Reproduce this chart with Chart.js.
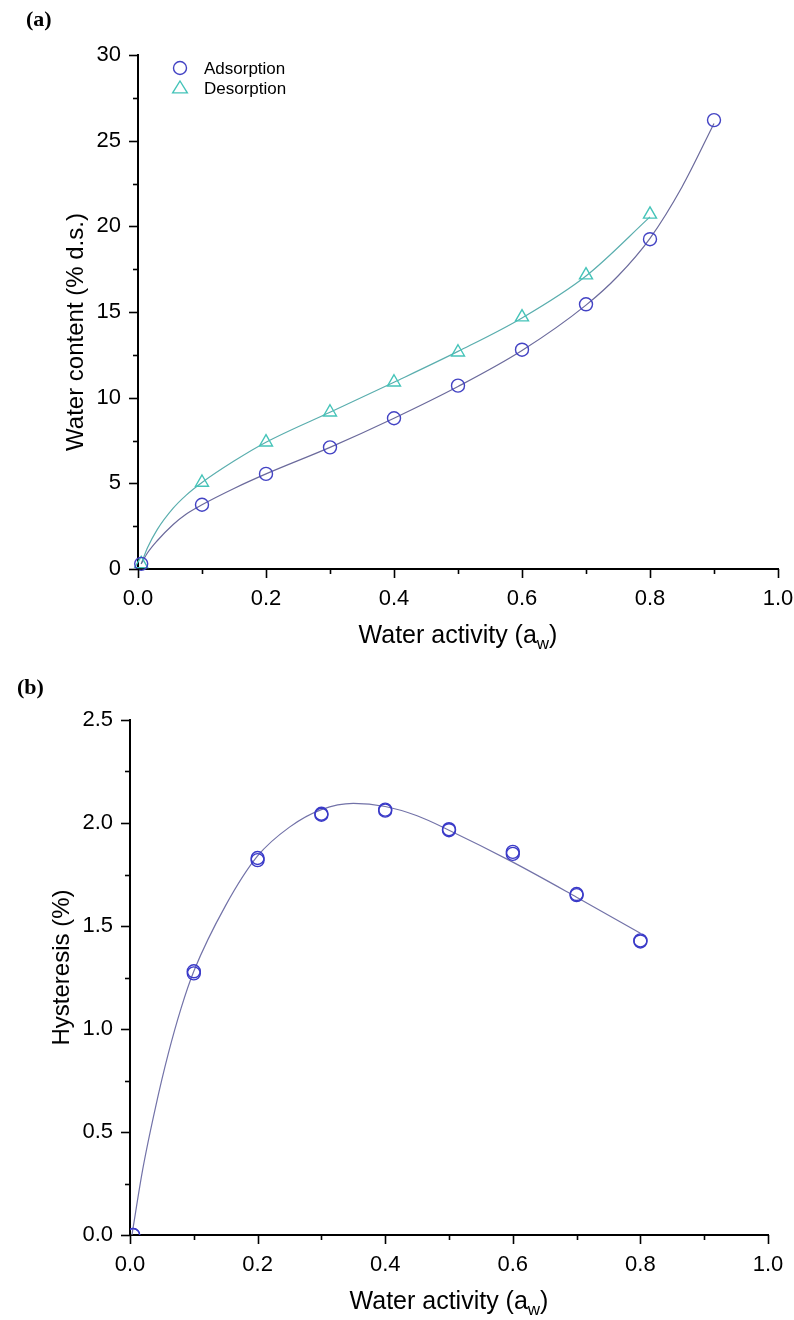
<!DOCTYPE html>
<html>
<head>
<meta charset="utf-8">
<script src="https://cdn.jsdelivr.net/npm/chart.js@4.4.1/dist/chart.umd.min.js"></script>
<style>
  body { margin: 0; background: #fff; width: 794px; height: 1320px; position: relative; overflow: hidden; }
  .wrap { position: absolute; left: 0; width: 794px; }
  .tag { position: absolute; font: bold 22px "Liberation Serif", serif; color: #000; z-index: 2; }
</style>
</head>
<body>
<div class="wrap" style="top:0;height:680px"><canvas id="chartA" width="794" height="680"></canvas></div>
<div class="wrap" style="top:680px;height:640px"><canvas id="chartB" width="794" height="640"></canvas></div>
<div class="tag" style="left:26px;top:6px">(a)</div>
<div class="tag" style="left:17px;top:674px">(b)</div>
<script>
// measured points, panel (a)
const awAds = [0.005, 0.1, 0.2, 0.3, 0.4, 0.5, 0.6, 0.7, 0.8, 0.9];
const adsorption = [0.3, 3.75, 5.55, 7.1, 8.8, 10.7, 12.8, 15.45, 19.25, 26.2];
const awDes = [0.005, 0.1, 0.2, 0.3, 0.4, 0.5, 0.6, 0.7, 0.8];
const desorption = [0.3, 5.05, 7.4, 9.15, 10.9, 12.65, 14.7, 17.15, 20.7];

// fitted curves
const awAdsFit = [0.005, 0.015, 0.03, 0.055, 0.075, 0.1, 0.15, 0.2, 0.3, 0.4, 0.5, 0.6, 0.7, 0.75, 0.8, 0.85, 0.9];
const adsorptionFit = [0.3, 0.95, 1.65, 2.6, 3.2, 3.75, 4.7, 5.55, 7.1, 8.8, 10.65, 12.75, 15.4, 17.1, 19.3, 22.3, 26.0];
const awDesFit = [0.005, 0.015, 0.03, 0.055, 0.075, 0.1, 0.15, 0.2, 0.3, 0.4, 0.5, 0.6, 0.7, 0.8];
const desorptionFit = [0.3, 1.25, 2.3, 3.55, 4.3, 5.05, 6.3, 7.4, 9.15, 10.9, 12.7, 14.65, 17.1, 20.55];

// panel (b): two overlapping marker sets + fit
const awHyst = [0.005, 0.1, 0.2, 0.3, 0.4, 0.5, 0.6, 0.7, 0.8];
const hysteresis1 = [0.0, 1.28, 1.83, 2.045, 2.065, 1.97, 1.86, 1.655, 1.43];
const hysteresis2 = [0.0, 1.27, 1.82, 2.04, 2.06, 1.965, 1.85, 1.65, 1.425];
const awHystFit = [0.003, 0.02, 0.04, 0.06, 0.08, 0.1, 0.15, 0.2, 0.25, 0.3, 0.35, 0.4, 0.45, 0.5, 0.6, 0.7, 0.8];
const hysteresisFit = [0.0, 0.32, 0.62, 0.88, 1.1, 1.28, 1.6, 1.84, 1.98, 2.065, 2.095, 2.08, 2.035, 1.965, 1.81, 1.64, 1.465];

const FONT = '"Liberation Sans", Arial, sans-serif';
const pts = (xs, ys) => xs.map((x, i) => ({x: x, y: ys[i]}));

const tickMarks = {
  id: 'tickMarks',
  afterDraw(chart) {
    const ctx = chart.ctx;
    const sx = chart.scales.x, sy = chart.scales.y;
    ctx.save();
    ctx.strokeStyle = '#000';
    ctx.lineWidth = 1.6;
    sx.ticks.forEach((t, i) => {
      const px = Math.round(sx.getPixelForValue(t.value)) + 0.5;
      const len = i % 2 ? 5 : 9;
      ctx.beginPath(); ctx.moveTo(px, sx.top); ctx.lineTo(px, sx.top + len); ctx.stroke();
    });
    sy.ticks.forEach((t, i) => {
      const py = Math.round(sy.getPixelForValue(t.value)) + 0.5;
      const len = i % 2 ? 5 : 9;
      ctx.beginPath(); ctx.moveTo(sy.right, py); ctx.lineTo(sy.right - len, py); ctx.stroke();
    });
    ctx.restore();
  }
};

const axisTitles = {
  id: 'axisTitles',
  afterDraw(chart, args, opts) {
    const ctx = chart.ctx, area = chart.chartArea;
    ctx.save();
    ctx.fillStyle = '#000';
    // x title with subscript w
    const big = '25px ' + FONT, small = '17px ' + FONT;
    ctx.font = big;
    const w1 = ctx.measureText('Water activity (a').width;
    const w3 = ctx.measureText(')').width;
    ctx.font = small;
    const w2 = ctx.measureText('w').width;
    let x = (area.left + area.right) / 2 - (w1 + w2 + w3) / 2;
    const base = area.bottom + 74;
    ctx.textBaseline = 'alphabetic';
    ctx.textAlign = 'left';
    ctx.font = big; ctx.fillText('Water activity (a', x, base); x += w1;
    ctx.font = small; ctx.fillText('w', x, base + 6); x += w2;
    ctx.font = big; ctx.fillText(')', x, base);
    // y title
    ctx.translate(opts.yX, (area.top + area.bottom) / 2 + opts.yShift);
    ctx.rotate(-Math.PI / 2);
    ctx.textAlign = 'center';
    ctx.textBaseline = 'middle';
    ctx.font = '24px ' + FONT;
    ctx.fillText(opts.yText, 0, 0);
    ctx.restore();
  }
};

const insetLegend = {
  id: 'insetLegend',
  afterDraw(chart, args, opts) {
    if (!opts.show) return;
    const ctx = chart.ctx, area = chart.chartArea;
    ctx.save();
    ctx.font = '17px ' + FONT;
    ctx.textBaseline = 'middle';
    let y = area.top + 13;
    chart.data.datasets.forEach(ds => {
      if (!ds.label) return;
      const cx = area.left + 42, r = 7;
      ctx.strokeStyle = ds.borderColor;
      ctx.lineWidth = 1.4;
      ctx.beginPath();
      if (ds.pointStyle === 'triangle') {
        ctx.moveTo(cx, y - r);
        ctx.lineTo(cx + r * 1.05, y + r * 0.7);
        ctx.lineTo(cx - r * 1.05, y + r * 0.7);
        ctx.closePath();
      } else {
        ctx.arc(cx, y, r - 0.5, 0, Math.PI * 2);
      }
      ctx.stroke();
      ctx.fillStyle = '#000';
      ctx.fillText(ds.label, area.left + 66, y + 1);
      y += 20;
    });
    ctx.restore();
  }
};

function xScale(height) {
  return {
    type: 'linear', min: 0, max: 1,
    grid: {display: false, drawTicks: false},
    border: {display: true, color: '#000', width: 2},
    ticks: {
      stepSize: 0.1, padding: 17, color: '#000',
      font: {family: FONT, size: 22},
      callback: (v, i) => i % 2 ? '' : v.toFixed(1)
    },
    afterFit: s => { s.height = height; s.paddingRight = 0; s.paddingLeft = 0; }
  };
}

function yScale(max, step, width, fmt) {
  return {
    type: 'linear', min: 0, max: max,
    grid: {display: false, drawTicks: false},
    border: {display: true, color: '#000', width: 2},
    ticks: {
      stepSize: step, padding: 17, color: '#000',
      font: {family: FONT, size: 22},
      callback: (v, i) => i % 2 ? '' : fmt(v)
    },
    afterFit: s => { s.width = width; }
  };
}

new Chart(document.getElementById('chartA'), {
  type: 'scatter',
  data: {
    datasets: [
      {label: 'Adsorption', data: pts(awAds, adsorption), pointStyle: 'circle', pointRadius: 6.5,
       borderColor: '#4343c4', backgroundColor: 'rgba(0,0,0,0)', borderWidth: 1.4, clip: false},
      {label: 'Desorption', data: pts(awDes, desorption), pointStyle: 'triangle', pointRadius: 7.5,
       borderColor: '#45c4b9', backgroundColor: 'rgba(0,0,0,0)', borderWidth: 1.4, clip: false},
      {data: pts(awAdsFit, adsorptionFit), showLine: true, pointRadius: 0, borderColor: '#6b6a9c',
       borderWidth: 1.2, cubicInterpolationMode: 'monotone'},
      {data: pts(awDesFit, desorptionFit), showLine: true, pointRadius: 0, borderColor: '#5aaeae',
       borderWidth: 1.2, cubicInterpolationMode: 'monotone'}
    ]
  },
  options: {
    responsive: false, animation: false,
    layout: {padding: {top: 55, right: 16, left: 0, bottom: 0}},
    scales: {
      x: xScale(111),
      y: yScale(30, 2.5, 138, v => String(v))
    },
    plugins: {
      legend: {display: false}, tooltip: {enabled: false},
      axisTitles: {yText: 'Water content (% d.s.)', yX: 76, yShift: 20},
      insetLegend: {show: true}
    }
  },
  plugins: [tickMarks, axisTitles, insetLegend]
});

new Chart(document.getElementById('chartB'), {
  type: 'scatter',
  data: {
    datasets: [
      {data: pts(awHyst, hysteresis1), pointStyle: 'circle', pointRadius: 6.5,
       borderColor: '#3a3ac8', backgroundColor: 'rgba(0,0,0,0)', borderWidth: 1.4},
      {data: pts(awHyst, hysteresis2), pointStyle: 'circle', pointRadius: 6.5,
       borderColor: '#3a3ac8', backgroundColor: 'rgba(0,0,0,0)', borderWidth: 1.4},
      {data: pts(awHystFit, hysteresisFit), showLine: true, pointRadius: 0, borderColor: '#7272a8',
       borderWidth: 1.2, cubicInterpolationMode: 'monotone'}
    ]
  },
  options: {
    responsive: false, animation: false,
    layout: {padding: {top: 40, right: 26, left: 0, bottom: 0}},
    scales: {
      x: xScale(85),
      y: yScale(2.5, 0.25, 130, v => v.toFixed(1))
    },
    plugins: {
      legend: {display: false}, tooltip: {enabled: false},
      axisTitles: {yText: 'Hysteresis (%)', yX: 62, yShift: -10},
      insetLegend: {show: false}
    }
  },
  plugins: [tickMarks, axisTitles, insetLegend]
});
</script>
</body>
</html>
